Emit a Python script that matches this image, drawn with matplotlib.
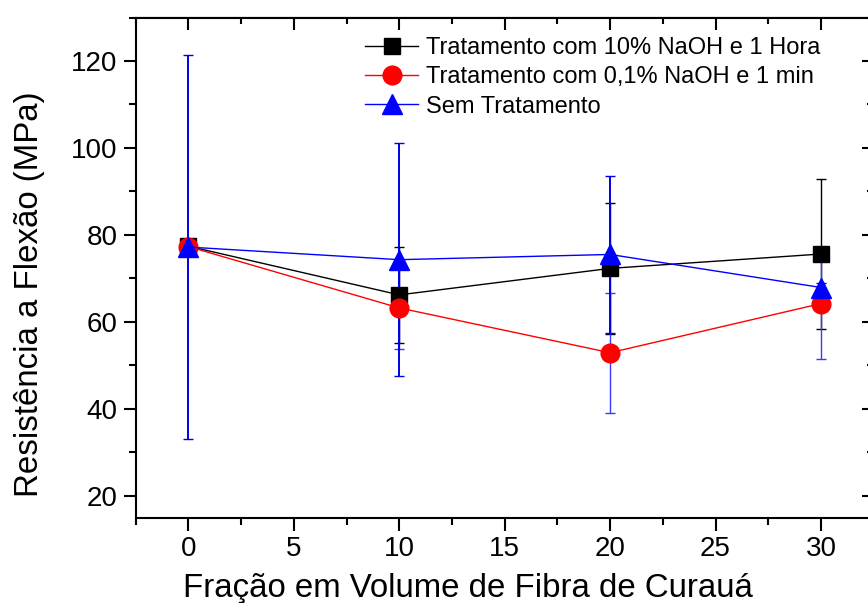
import matplotlib
matplotlib.use("Agg")
import matplotlib.pyplot as plt
from matplotlib.ticker import MultipleLocator

plt.rcParams['font.family'] = ['Liberation Sans', 'DejaVu Sans']

x = [0, 10, 20, 30]
naoh10_1h = [77.4, 66.2, 72.3, 75.6]
naoh10_1h_err = [1.0, 11.0, 15.0, 17.2]
naoh01_1min = [77.3, 63.2, 52.9, 64.2]
naoh01_1min_err = [1.0, 9.4, 13.8, 12.8]
sem_trat = [77.2, 74.3, 75.5, 67.9]
sem_trat_err = [44.2, 26.8, 18.0, 1.0]

labels = ["Tratamento com 10% NaOH e 1 Hora",
          "Tratamento com 0,1% NaOH e 1 min",
          "Sem Tratamento"]

fig = plt.figure(figsize=(8.68, 6.03), dpi=100)
ax = fig.add_axes([135.7/868, (603-517.5)/603, 738/868, 500/603])

ax.errorbar(x, naoh10_1h, yerr=naoh10_1h_err, fmt='none', ecolor='black',
            elinewidth=1.0, capsize=3.7, capthick=1.0, zorder=2)
ax.errorbar(x, naoh01_1min, yerr=naoh01_1min_err, fmt='none', ecolor='#3a3aff',
            elinewidth=1.0, capsize=3.7, capthick=1.0, zorder=2)
ax.errorbar(x, sem_trat, yerr=sem_trat_err, fmt='none', ecolor='#0000e6',
            elinewidth=1.4, capsize=3.7, capthick=1.0, zorder=2)

ax.plot(x, naoh10_1h, color='black', lw=1.0, marker='s', ms=12,
        mfc='black', mec='black', label=labels[0], zorder=3)
ax.plot(x, naoh01_1min, color='red', lw=1.0, marker='o', ms=13.5,
        mfc='red', mec='red', label=labels[1], zorder=4)
ax.plot(x, sem_trat, color='blue', lw=1.0, marker='^', ms=15,
        mfc='blue', mec='blue', label=labels[2], zorder=5)

ax.set_xlim(-2.5, 32.5)
ax.set_ylim(15, 130)
ax.xaxis.set_major_locator(MultipleLocator(5))
ax.xaxis.set_minor_locator(MultipleLocator(2.5))
ax.yaxis.set_minor_locator(MultipleLocator(10))
ax.set_yticks([20, 40, 60, 80, 100, 120])

ax.tick_params(axis='both', which='major', labelsize=20, width=1.5, length=9, pad=4)
ax.tick_params(axis='both', which='minor', width=1.5, length=5)
ax.tick_params(axis='x', which='both', direction='out', top=False)
ax.tick_params(axis='y', which='both', direction='out', right=False)
for s in ax.spines.values():
    s.set_linewidth(1.5)

# mirrored inward ticks on top and right
axt = ax.secondary_xaxis('top')
axt.xaxis.set_major_locator(MultipleLocator(5))
axt.xaxis.set_minor_locator(MultipleLocator(2.5))
axt.tick_params(which='major', direction='in', length=9, width=1.5, labeltop=False)
axt.tick_params(which='minor', direction='in', length=5, width=1.5)
axr = ax.secondary_yaxis('right')
axr.yaxis.set_major_locator(MultipleLocator(20))
axr.yaxis.set_minor_locator(MultipleLocator(10))
axr.tick_params(which='major', direction='in', length=9, width=1.5, labelright=False)
axr.tick_params(which='minor', direction='in', length=5, width=1.5)

ax.set_xlabel("Fração em Volume de Fibra de Curauá", fontsize=23.8)
ax.xaxis.set_label_coords((467.5 - 135.7) / 738, (517.5 - 596.5) / 500)
ax.xaxis.label.set_verticalalignment('baseline')
ax.set_ylabel("Resistência a Flexão (MPa)", fontsize=23.8)
ax.yaxis.set_label_coords((38 - 135.7) / 738, (517.5 - 294.5) / 500)
ax.yaxis.label.set_verticalalignment('baseline')

fig.legend(*ax.get_legend_handles_labels(), loc='upper left',
           bbox_to_anchor=(365/868, 1 - 37/603), bbox_transform=fig.transFigure,
           frameon=False, fontsize=17, handlelength=2.25, handletextpad=0.34,
           labelspacing=0.31, borderpad=0, borderaxespad=0)

fig.savefig("out.png", dpi=100)
